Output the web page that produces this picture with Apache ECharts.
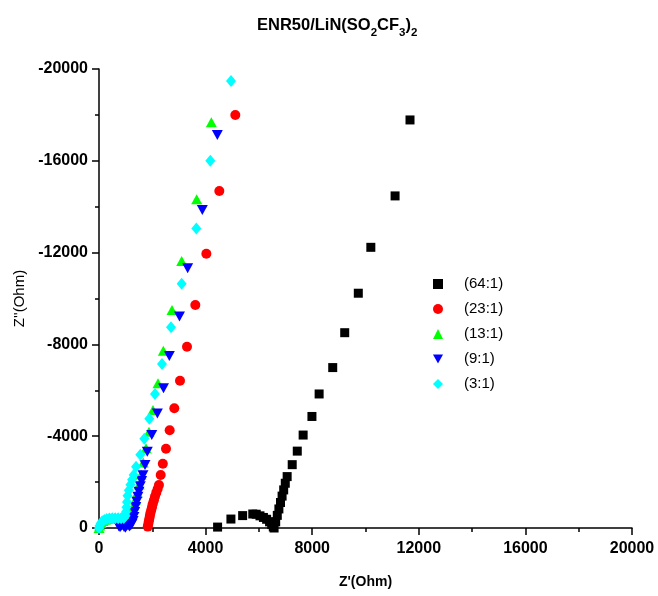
<!DOCTYPE html>
<html>
<head>
<meta charset="utf-8">
<script src="https://cdn.jsdelivr.net/npm/echarts@6/dist/echarts.min.js"></script>
<style>
html,body{margin:0;padding:0;background:#fff;}
#c{width:658px;height:596px;}
</style>
</head>
<body>
<div id="c"></div>
<script>
// Axis ticks
var xTicks = [0, 4000, 8000, 12000, 16000, 20000];
var yTicks = [-20000, -16000, -12000, -8000, -4000, 0];

// Series names
var seriesNames = ['(64:1)', '(23:1)', '(13:1)', '(9:1)', '(3:1)'];

// (64:1) — Z' , Z''
var s64 = [[4450,-40],[4950,-390],[5390,-540],[5770,-610],[5900,-600],[6040,-530],[6170,-460],[6290,-380],[6400,-270],[6480,-150],[6540,-50],[6570,0],[6630,-270],[6690,-550],[6750,-830],[6810,-1110],[6870,-1390],[6930,-1660],[6990,-1950],[7060,-2240],[7250,-2760],[7440,-3350],[7660,-4050],[7990,-4860],[8260,-5840],[8770,-6990],[9220,-8510],[9730,-10230],[10200,-12230],[11110,-14470],[11670,-17780]];

// (23:1)
var s23 = [[1830,-60],[1850,-170],[1870,-290],[1890,-410],[1910,-530],[1930,-650],[1960,-780],[1990,-920],[2020,-1060],[2060,-1210],[2100,-1370],[2150,-1540],[2200,-1700],[2250,-1874],[2315,-2309],[2395,-2800],[2514,-3456],[2652,-4257],[2826,-5215],[3039,-6418],[3302,-7901],[3615,-9717],[4028,-11952],[4515,-14684],[5115,-17996]];

// (13:1)
var s13 = [[0,0],[30,-110],[80,-220],[150,-300],[240,-360],[340,-400],[450,-420],[570,-430],[690,-440],[800,-440],[900,-460],[1000,-480],[1080,-550],[1150,-640],[1230,-800],[1300,-990],[1370,-1240],[1440,-1540],[1510,-1900],[1580,-2330],[1660,-2850],[1764,-3473],[1876,-4197],[2026,-5142],[2214,-6305],[2414,-7726],[2739,-9499],[3102,-11634],[3665,-14327],[4215,-17676]];

// (9:1)
var s9 = [[740,-80],[790,-30],[840,-100],[890,-130],[940,-40],[990,-10],[1040,-90],[1090,-130],[1140,-60],[1190,-110],[1240,-180],[1280,-300],[1310,-480],[1340,-700],[1380,-920],[1420,-1140],[1460,-1360],[1500,-1580],[1550,-1820],[1600,-2050],[1650,-2300],[1726,-2745],[1812,-3325],[1980,-4052],[2190,-4990],[2420,-6087],[2639,-7495],[3020,-9220],[3327,-11316],[3877,-13856],[4440,-17124]];

// (3:1)
var s3 = [[0,0],[20,-100],[60,-200],[120,-290],[200,-350],[290,-390],[390,-415],[500,-425],[610,-425],[720,-425],[830,-430],[930,-440],[990,-520],[1010,-700],[1030,-900],[1050,-1130],[1070,-1400],[1120,-1650],[1180,-1880],[1240,-2100],[1300,-2310],[1390,-2670],[1550,-3194],[1700,-3891],[1888,-4763],[2101,-5839],[2364,-7146],[2702,-8745],[3102,-10645],[3652,-13046],[4178,-16005],[4953,-19477]];

var FONT = '"Liberation Sans", Arial, sans-serif';
var chart = echarts.init(document.getElementById('c'), null, {renderer: 'canvas'});

var invTri = 'path://M0,0 L10,0 L5,9 Z';
var plain = function (v) { return String(v); };

chart.setOption({
  animation: false,
  backgroundColor: '#fff',
  title: {
    text: '{b|ENR50/LiN(SO}{s|2}{b|CF}{s|3}{b|)}{s|2}',
    left: 252,
    top: 12,
    textStyle: {
      rich: {
        b: {fontFamily: FONT, fontWeight: 'bold', fontSize: 16.5, color: '#000', verticalAlign: 'bottom'},
        s: {fontFamily: FONT, fontWeight: 'bold', fontSize: 11.5, color: '#000', padding: [0,0,-5,0], verticalAlign: 'bottom'}
      }
    }
  },
  legend: {
    orient: 'vertical',
    left: 433,
    top: 276,
    padding: 0,
    itemWidth: 10,
    itemHeight: 10,
    itemGap: 9,
    data: seriesNames,
    textStyle: {fontFamily: FONT, fontSize: 15, color: '#000', lineHeight: 16, padding: [0,0,0,16]}
  },
  grid: {left: 99, right: 26, top: 69, bottom: 68, containLabel: false},
  xAxis: {
    type: 'value',
    min: xTicks[0], max: xTicks[xTicks.length-1], interval: 4000,
    name: "Z'(Ohm)",
    nameLocation: 'middle',
    nameGap: 47,
    nameTextStyle: {fontFamily: FONT, fontWeight: 'bold', fontSize: 14, color: '#000'},
    axisLine: {show: true, onZero: false, lineStyle: {color: '#000', width: 1.5}},
    axisTick: {show: true, inside: false, length: 7, lineStyle: {color: '#000', width: 1.5}},
    minorTick: {show: true, splitNumber: 2, length: 4, lineStyle: {color: '#000', width: 1.5}},
    axisLabel: {fontFamily: FONT, fontWeight: 'bold', fontSize: 16, color: '#000', margin: 13, formatter: plain},
    splitLine: {show: false}
  },
  yAxis: {
    type: 'value',
    min: yTicks[0], max: yTicks[yTicks.length-1], interval: 4000,
    inverse: true,
    name: "Z''(Ohm)",
    nameLocation: 'middle',
    nameGap: 68,
    nameTextStyle: {fontFamily: FONT, fontSize: 15, color: '#000'},
    axisLine: {show: true, onZero: false, lineStyle: {color: '#000', width: 1.5}},
    axisTick: {show: true, inside: false, length: 7, lineStyle: {color: '#000', width: 1.5}},
    minorTick: {show: true, splitNumber: 2, length: 4, lineStyle: {color: '#000', width: 1.5}},
    axisLabel: {fontFamily: FONT, fontWeight: 'bold', fontSize: 16, color: '#000', margin: 11, formatter: plain},
    splitLine: {show: false}
  },
  series: [
    {name: seriesNames[0], type: 'scatter', data: s64, symbol: 'rect', symbolSize: 9, itemStyle: {color: '#000000', opacity: 1}},
    {name: seriesNames[1], type: 'scatter', data: s23, symbol: 'circle', symbolSize: 10, itemStyle: {color: '#ff0000', opacity: 1}},
    {name: seriesNames[2], type: 'scatter', data: s13, symbol: 'triangle', symbolSize: [11,10], itemStyle: {color: '#00ff00', opacity: 1}},
    {name: seriesNames[3], type: 'scatter', data: s9, symbol: invTri, symbolSize: [11,10], itemStyle: {color: '#0000ff', opacity: 1}},
    {name: seriesNames[4], type: 'scatter', data: s3, symbol: 'diamond', symbolSize: [10,12], itemStyle: {color: '#00ffff', opacity: 1}}
  ]
});
</script>
</body>
</html>
